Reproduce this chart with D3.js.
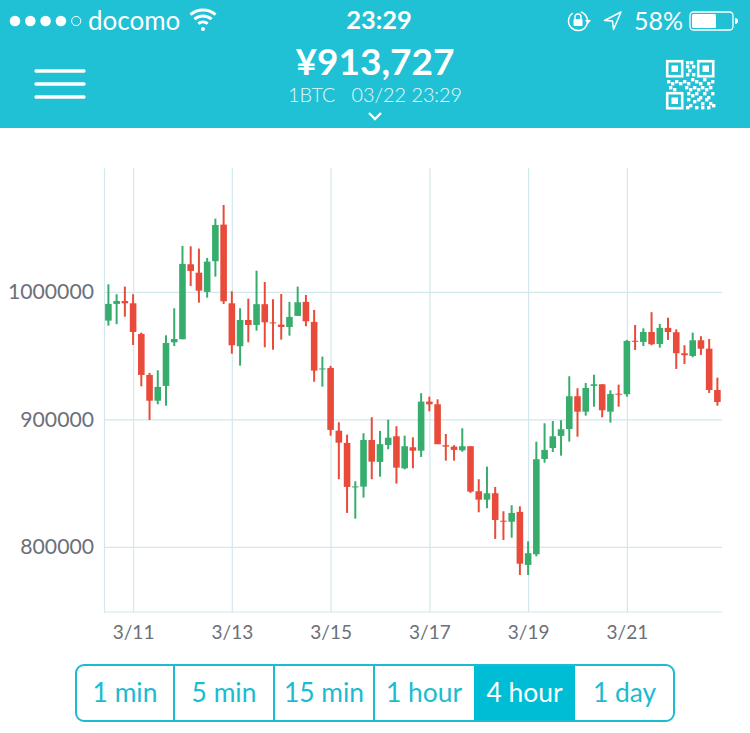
<!DOCTYPE html>
<html><head><meta charset="utf-8">
<script src="https://cdn.jsdelivr.net/npm/d3@7"></script>
<style>html,body{margin:0;padding:0;background:#fff}svg{display:block}text{font-family:Lato,sans-serif}</style>
</head><body><svg id="c" width="750" height="733"></svg>
<script>
const opens=[977.5,990.6,992.9,991.1,967.1,934.9,914.7,926.3,960.5,962.9,1021.7,1015.1,1000,1024.1,1052.8,991.1,957.4,978,974.1,990.4,976.1,974.4,972.5,981.2,992.2,976.5,939.2,940.4,891.2,881.6,846.7,847.3,883.9,866.7,880,886.8,861.7,878.2,875.5,914,911.9,879.8,878.7,875.8,879,843.7,837.1,842.1,820.6,819.8,827.5,785.9,794.3,869,877.6,887.1,892.5,918.2,906.1,926.3,927.6,906.1,920.2,919.8,961.7,960.8,968.6,959.2,971.8,968.4,951.9,949.8,962.1,955.5,923.1];
const closes=[990.6,992.9,991.1,968.6,934.9,914.7,925.5,960,963.1,1022,1016.5,1001,1023.8,1052.5,992.7,958.2,978,974.1,990.4,976.2,975.3,972.5,980.4,991.9,977,938.3,940,891.8,881.8,847.1,847.5,883.9,866.9,880.6,885.7,862.2,879,875.5,914,911.9,880.6,878.7,876.1,879,843.4,837.1,842.1,821.2,819.8,826.7,786.9,795.1,868.8,876.1,886.8,892.3,918.2,906.1,924.7,927.6,907.2,920,919.4,961.6,960.9,968.6,959,971.8,968.6,951.9,950.4,962.1,955.5,923.1,913.7];
const highs=[1006,998.2,1004.2,998.2,968.1,936.5,938.6,966,987.2,1036.1,1035.8,1034,1026.7,1057.5,1068.2,1000.5,987.2,994.7,1016.7,1007.8,994.3,998.4,992.2,1004.2,997.6,985.9,949.3,942,897.8,888.1,851.5,889.2,901.7,891,899.8,894.7,887.3,886,920.6,917.9,915.8,888.6,879.8,893.1,879,853.1,863,847.1,828,832.7,831.9,804.5,882.6,897,898.8,899.4,933.9,924.5,928.6,935.1,927.6,922.9,927.3,962.4,974.1,971.5,984.1,974.9,979.8,970.7,958.2,968.1,965.3,963.1,932.8];
const lows=[973.6,974.7,980.6,958.4,926,899.6,911.9,910.8,957.6,962.9,1004.7,991.6,995.5,1012,990.6,951.6,942.2,960.5,969.6,956.6,954.7,962.6,965.7,981.2,973.1,929.6,925.7,887.3,853.1,826.7,822.2,838.7,853.1,855.1,876.6,849.7,860.9,861.7,870.6,906.4,880.6,867.7,867.7,874.7,842.4,827.2,830.4,806.3,805.5,807.3,778,778,792.7,866.1,874.5,871.6,882.6,886.5,903,910,901.7,897.5,910,917.9,954.5,957.6,958.2,956.3,962.4,939.6,943.5,948.8,950.6,920.8,910.8];
const yTicks=[800000,900000,1000000];
const xTickIndex=[3,15,27,39,51,63];
const xTickLabels=["3/11","3/13","3/15","3/17","3/19","3/21"];
const buttons=["1 min","5 min","15 min","1 hour","4 hour","1 day"];
const activeButton="4 hour";

const TEAL="#20C0D5",BTN="#1DBBD0",ACTIVE="#00BDD6",GREEN="#37AD6D",RED="#E84B3A",GRID="#D2E8ED",TXT="#6B7078";
const svg=d3.select("#c");
const x=d3.scaleLinear().domain([0,74]).range([108.4,717.4]);
const y=d3.scaleLinear().domain([749000,1097200]).range([612,168]);

/* grid and axes */
const g=svg.append("g");
const ax=g.append("g").attr("transform","translate(104,0)").call(d3.axisLeft(y).tickValues(yTicks).tickFormat(d3.format("d")).tickSizeInner(-618).tickSizeOuter(0).tickPadding(10));
ax.select(".domain").attr("stroke",GRID).attr("stroke-width",1.2);
ax.selectAll(".tick line").attr("stroke",GRID).attr("stroke-width",1.2);
ax.selectAll(".tick text").attr("fill",TXT).attr("font-size",21.2).style("font-family","Lato,sans-serif");
const bx=g.append("g").attr("transform","translate(0,612)").call(d3.axisBottom(x).tickValues(xTickIndex).tickFormat((d,i)=>xTickLabels[i]).tickSizeInner(-444).tickSizeOuter(0).tickPadding(14));
bx.select(".domain").remove();
bx.selectAll(".tick line").attr("stroke",GRID).attr("stroke-width",1.2);
bx.selectAll(".tick text").attr("fill",TXT).attr("font-size",19).style("font-family","Lato,sans-serif");
g.append("line").attr("x1",104).attr("x2",722).attr("y1",612).attr("y2",612).attr("stroke",GRID).attr("stroke-width",1.2);

/* candles */
const idx=d3.range(opens.length);
const col=i=>closes[i]>=opens[i]?GREEN:RED;
const K=1000;
svg.append("g").selectAll("line").data(idx).join("line")
 .attr("x1",x).attr("x2",x).attr("y1",i=>y(highs[i]*K)).attr("y2",i=>y(lows[i]*K))
 .attr("stroke",col).attr("stroke-width",2);
svg.append("g").selectAll("rect").data(idx).join("rect")
 .attr("x",i=>x(i)-3.3).attr("width",6.6)
 .attr("y",i=>y(Math.max(opens[i],closes[i])*K))
 .attr("height",i=>Math.max(1,Math.abs(y(opens[i]*K)-y(closes[i]*K))))
 .attr("fill",col);

/* header */
const h=svg.append("g");
h.append("rect").attr("width",750).attr("height",128).attr("fill",TEAL);
const W="#fff";
d3.range(5).forEach(i=>h.append("circle").attr("cx",15+i*15.3).attr("cy",21).attr("r",i<4?5.3:4.6).attr("fill",i<4?W:"none").attr("stroke",W).attr("stroke-width",i<4?0:1));
h.append("text").attr("x",88).attr("y",30).attr("font-size",26).attr("fill",W).text("docomo");
// wifi
const wifi=h.append("g").attr("transform","translate(203,29)").attr("fill","none").attr("stroke",W).attr("stroke-width",3);
[7,13,19].forEach(r=>wifi.append("path").attr("d",d3.arc()({innerRadius:r,outerRadius:r,startAngle:-0.72,endAngle:0.72})));
wifi.append("circle").attr("r",2).attr("fill",W).attr("stroke","none");
h.append("text").attr("x",379).attr("y",29).attr("text-anchor","middle").attr("font-size",25.5).attr("font-weight",700).attr("fill",W).text("23:29");
// rotation lock
const rl=h.append("g").attr("transform","translate(578,21)");
rl.append("path").attr("d",d3.arc()({innerRadius:9.5,outerRadius:9.5,startAngle:0.3,endAngle:5.7})).attr("fill","none").attr("stroke",W).attr("stroke-width",1.5);
rl.append("path").attr("d","M7,-1L13,-1L10,3Z").attr("fill",W);
rl.append("rect").attr("x",-4.5).attr("y",-2).attr("width",9).attr("height",7).attr("rx",1).attr("fill",W);
rl.append("path").attr("d","M-3,-2V-4A3,3 0 0 1 3,-4V-2").attr("fill","none").attr("stroke",W).attr("stroke-width",1.4);
h.append("path").attr("d","M621,12L604.5,20.5L612.5,21L613.5,29.5Z").attr("fill","none").attr("stroke",W).attr("stroke-width",1.5).attr("stroke-linejoin","round");
h.append("text").attr("x",634).attr("y",30).attr("font-size",25).attr("fill",W).text("58%");
h.append("rect").attr("x",690).attr("y",12).attr("width",43).attr("height",18).attr("rx",3.5).attr("fill","none").attr("stroke",W).attr("stroke-width",1.3);
h.append("rect").attr("x",692).attr("y",14).attr("width",24).attr("height",14).attr("rx",1.5).attr("fill",W);
h.append("path").attr("d","M735,18a3,3 0 0 1 0,6Z").attr("fill",W);
h.append("text").attr("x",375).attr("y",75).attr("text-anchor","middle").attr("font-size",37).attr("font-weight",700).attr("fill",W).text("¥913,727");
h.append("text").attr("x",375).attr("y",102).attr("text-anchor","middle").attr("font-size",19.8).attr("font-weight",300).attr("fill","#EAF9FB").attr("xml:space","preserve").text("1BTC   03/22 23:29");
h.append("path").attr("d","M369,113L375,119L381,113").attr("fill","none").attr("stroke",W).attr("stroke-width",2.4);
[71,84,97].forEach(v=>h.append("line").attr("x1",36).attr("x2",84).attr("y1",v).attr("y2",v).attr("stroke",W).attr("stroke-width",3.4).attr("stroke-linecap","round"));
// QR
const qr=h.append("g").attr("transform","translate(666,60)").attr("fill",W);
[[0,0],[31,0],[0,32]].forEach(([a,b])=>{
 qr.append("rect").attr("x",a+1.2).attr("y",b+1.2).attr("width",15).attr("height",15).attr("fill","none").attr("stroke",W).attr("stroke-width",2.6);
 qr.append("rect").attr("x",a+5.5).attr("y",b+5.5).attr("width",6.5).attr("height",6.5);
});
const qc=[[20,1],[24,1],[20,5],[26,5],[22,9],[20,13],[26,13],[1,20],[5,22],[9,20],[13,22],[17,20],[21,22],[25,18],[29,20],[33,22],[37,18],[41,22],[45,20],[3,26],[7,28],[19,26],[23,28],[27,26],[31,28],[35,26],[39,28],[43,26],[21,32],[25,34],[29,32],[33,36],[37,32],[41,36],[45,32],[21,38],[27,40],[31,38],[35,42],[39,38],[43,42],[23,44],[29,46],[35,46],[41,46],[46,44],[20,46]];
qc.forEach(([a,b])=>qr.append("rect").attr("x",a).attr("y",b).attr("width",3.4).attr("height",3.4));

/* buttons */
const b=svg.append("g");
const bL=76,bT=665,bW=598,bH=56;
const edges=[76,174,274,374,474,575,674];
const ai=buttons.indexOf(activeButton);
b.append("rect").attr("x",edges[ai]).attr("y",bT).attr("width",edges[ai+1]-edges[ai]).attr("height",bH).attr("fill",ACTIVE);
b.append("rect").attr("x",bL).attr("y",bT).attr("width",bW).attr("height",bH).attr("rx",8).attr("fill","none").attr("stroke",BTN).attr("stroke-width",2);
[1,2,3].forEach(i=>b.append("line").attr("x1",edges[i]).attr("x2",edges[i]).attr("y1",bT).attr("y2",bT+bH).attr("stroke",BTN).attr("stroke-width",2));
buttons.forEach((t,i)=>b.append("text").attr("x",(edges[i]+edges[i+1])/2).attr("y",702).attr("text-anchor","middle").attr("font-size",26.4).attr("fill",i===ai?W:BTN).text(t));
</script></body></html>
